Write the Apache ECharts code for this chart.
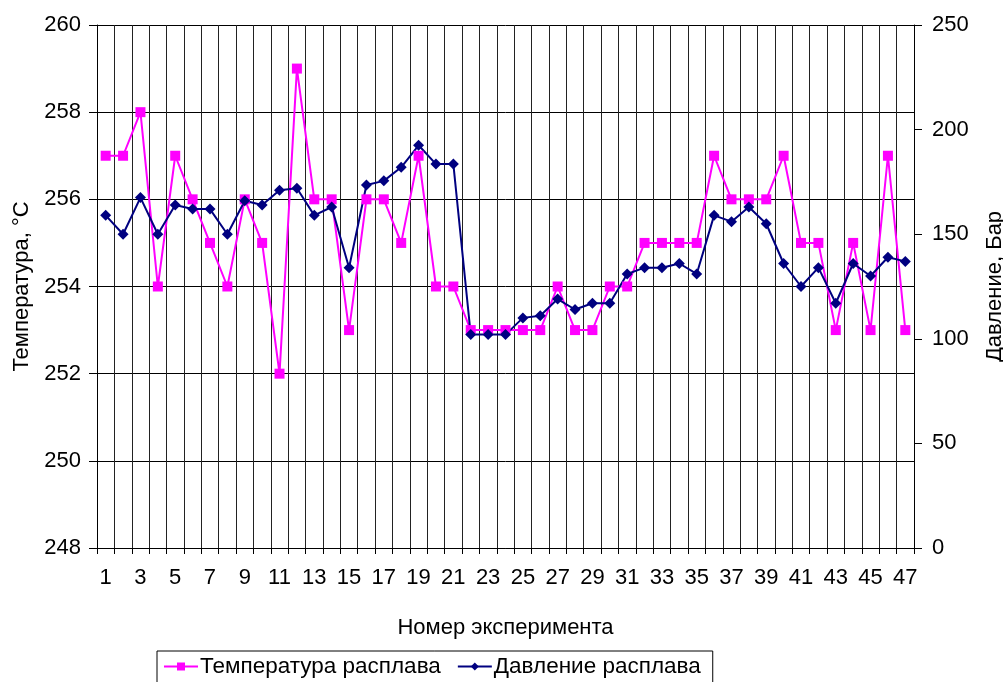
<!DOCTYPE html>
<html>
<head>
<meta charset="utf-8">
<script src="https://cdn.jsdelivr.net/npm/echarts@6/dist/echarts.min.js"></script>
<style>
  html, body { margin: 0; padding: 0; background: #fff; }
  #main { width: 1003px; height: 682px; }
</style>
</head>
<body>
<div id="main"></div>
<script>
// номера экспериментов 1..47
const experiments = ["1","2","3","4","5","6","7","8","9","10","11","12","13","14","15","16","17","18","19","20",
  "21","22","23","24","25","26","27","28","29","30","31","32","33","34","35","36","37","38","39","40",
  "41","42","43","44","45","46","47"];

// температура расплава, °С (левая ось)
const temperature = [257, 257, 258, 254, 257, 256, 255, 254, 256, 255,
  252, 259, 256, 256, 253, 256, 256, 255, 257, 254,
  254, 253, 253, 253, 253, 253, 254, 253, 253, 254,
  254, 255, 255, 255, 255, 257, 256, 256, 256, 257,
  255, 255, 253, 255, 253, 257, 253];

// давление расплава, Бар (правая ось)
const pressure = [159, 150, 167.5, 150, 164, 162, 162, 150, 166, 164,
  171, 172, 159, 163, 134, 173.5, 175.5, 182, 192.5, 183.5,
  183.5, 102, 102, 102, 110, 111, 119, 114, 117, 117,
  131, 134, 134, 136, 131, 159, 156, 163, 155, 136,
  125, 134, 117, 136, 130, 139, 137];

const font = "Liberation Sans, Arial, sans-serif";
const fs = 22;

const chart = echarts.init(document.getElementById("main"));

const option = {
  animation: false,
  textStyle: { fontFamily: font, color: "#000" },
  grid: { left: 97, right: 89, top: 25, bottom: 134, outerBoundsMode: "none" },
  legend: {
    left: 157,
    top: 651,
    padding: [4, 12, 8, 6],
    borderColor: "#000",
    borderWidth: 1,
    itemGap: 16,
    itemWidth: 34,
    itemHeight: 10,
    textStyle: { fontSize: 22.5, fontFamily: font, color: "#000", padding: [0, 0, 0, -3] },
    data: ["Температура расплава", "Давление расплава"]
  },
  xAxis: {
    type: "category",
    data: experiments,
    name: "Номер эксперимента",
    nameLocation: "middle",
    nameGap: 69,
    nameTextStyle: { fontSize: fs, fontFamily: font, color: "#000" },
    axisLine: { lineStyle: { color: "#000", width: 1 } },
    axisTick: { show: true, interval: 0, length: 6, lineStyle: { color: "#000" } },
    axisLabel: { interval: 1, fontSize: fs, fontFamily: font, color: "#000", margin: 19 },
    splitLine: { show: true, interval: 0, lineStyle: { color: "#222", width: 1 } }
  },
  yAxis: [
    {
      type: "value",
      min: 248,
      max: 260,
      interval: 2,
      name: "Температура, °С",
      nameLocation: "middle",
      nameRotate: 90,
      nameGap: 63,
      nameTextStyle: { fontSize: fs, fontFamily: font, color: "#000" },
      axisLine: { show: true, lineStyle: { color: "#000", width: 1 } },
      axisTick: { show: true, length: 8, lineStyle: { color: "#000" } },
      axisLabel: { fontSize: fs, fontFamily: font, color: "#000", margin: 16 },
      splitLine: { show: true, lineStyle: { color: "#000", width: 1 } }
    },
    {
      type: "value",
      position: "right",
      min: 0,
      max: 250,
      interval: 50,
      name: "Давление, Бар",
      nameLocation: "middle",
      nameRotate: 90,
      nameGap: 70,
      nameTextStyle: { fontSize: fs, fontFamily: font, color: "#000" },
      axisLine: { show: true, lineStyle: { color: "#000", width: 1 } },
      axisTick: { show: true, length: 8, lineStyle: { color: "#000" } },
      axisLabel: { fontSize: fs, fontFamily: font, color: "#000", margin: 18 },
      splitLine: { show: false }
    }
  ],
  series: [
    {
      name: "Температура расплава",
      type: "line",
      yAxisIndex: 0,
      data: temperature,
      symbol: "rect",
      symbolSize: 10,
      showAllSymbol: true,
      itemStyle: { color: "#FF00FF" },
      lineStyle: { color: "#FF00FF", width: 2 }
    },
    {
      name: "Давление расплава",
      type: "line",
      yAxisIndex: 1,
      data: pressure,
      symbol: "diamond",
      symbolSize: 11,
      showAllSymbol: true,
      itemStyle: { color: "#000080" },
      lineStyle: { color: "#000080", width: 2 }
    }
  ]
};

chart.setOption(option);
</script>
</body>
</html>
